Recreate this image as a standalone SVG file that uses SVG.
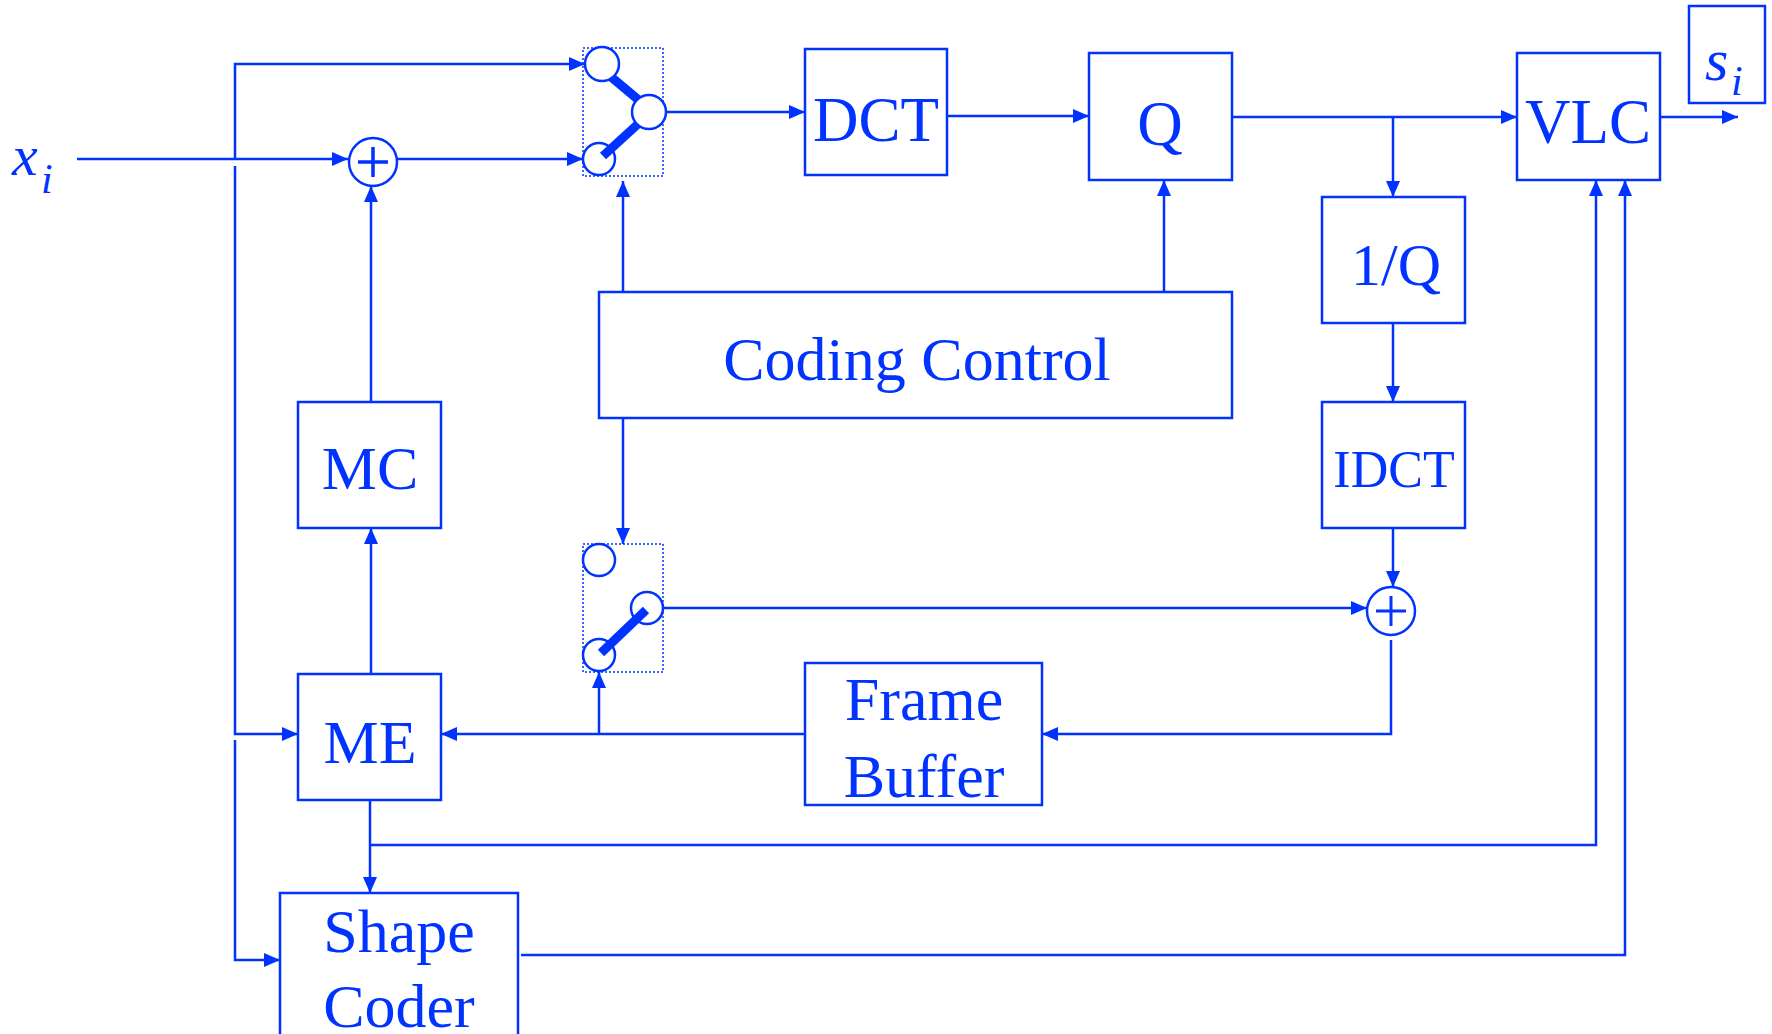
<svg xmlns="http://www.w3.org/2000/svg" width="1772" height="1034" viewBox="0 0 1772 1034">
<defs>
<marker id="ah" markerUnits="userSpaceOnUse" markerWidth="16" markerHeight="14" refX="16" refY="7" orient="auto">
<path d="M0,0 L16,7 L0,14 z" fill="#0033ff"/>
</marker>
<style>
.box{fill:#fff;stroke:#0033ff;stroke-width:2.5}
.ln{fill:none;stroke:#0033ff;stroke-width:2.5}
.ar{fill:none;stroke:#0033ff;stroke-width:2.5;marker-end:url(#ah)}
.dot{fill:none;stroke:#0033ff;stroke-width:1.5;stroke-dasharray:2,2}
.sw{fill:#fff;stroke:#0033ff;stroke-width:2.5}
.bar{stroke:#0033ff;stroke-width:9}
.t{font-family:"Liberation Serif","Times New Roman",serif;fill:#0033ff;text-anchor:middle}
.it{font-family:"Liberation Serif","Times New Roman",serif;fill:#0033ff;font-style:italic}
</style>
</defs>
<rect width="1772" height="1034" fill="#fff"/>
<g id="connectors">
<path class="ar" d="M77,159 H348"/>
<path class="ar" d="M397,159 H583"/>
<path class="ar" d="M235,159 V64 H585"/>
<path class="ar" d="M666,112 H805"/>
<path class="ar" d="M947,116 H1089"/>
<path class="ar" d="M1232,117 H1517"/>
<path class="ar" d="M1393,117 V197"/>
<path class="ar" d="M1393,323 V402"/>
<path class="ar" d="M1393,528 V587"/>
<path class="ar" d="M1391,640 V734 H1042"/>
<path class="ar" d="M805,734 H441"/>
<path class="ar" d="M599,734 V672"/>
<path class="ar" d="M663,608 H1367"/>
<path class="ar" d="M623,292 V181"/>
<path class="ar" d="M1164,292 V180"/>
<path class="ar" d="M623,418 V544"/>
<path class="ar" d="M371,402 V186"/>
<path class="ar" d="M371,674 V528"/>
<path class="ar" d="M235,166 V734 H298"/>
<path class="ar" d="M235,740 V960 H280"/>
<path class="ar" d="M370,800 V893"/>
<path class="ar" d="M370,845 H1596 V180"/>
<path class="ar" d="M521,955 H1625 V180"/>
<path class="ar" d="M1660,117 H1738"/>
</g>
<g id="adder1">
<circle class="sw" cx="373" cy="162" r="24"/>
<path class="ln" d="M358,162 H388 M373,147 V177" style="stroke-width:3.5"/>
</g>
<g id="adder2">
<circle class="sw" cx="1391" cy="611" r="24"/>
<path class="ln" d="M1376,611 H1406 M1391,596 V626" style="stroke-width:3"/>
</g>
<g id="switch1">
<rect class="dot" x="583" y="48" width="80" height="128"/>
<line class="bar" x1="610" y1="76" x2="641" y2="102"/>
<line class="bar" x1="603" y1="156" x2="638" y2="124"/>
<circle class="sw" cx="602" cy="64" r="17"/>
<circle class="sw" cx="649" cy="112" r="17"/>
<circle cx="599" cy="159" r="16" fill="none" stroke="#0033ff" stroke-width="2.5"/>
</g>
<g id="switch2">
<rect class="dot" x="583" y="544" width="80" height="128"/>
<circle class="sw" cx="599" cy="560" r="16"/>
<circle cx="647" cy="608" r="16" fill="none" stroke="#0033ff" stroke-width="2.5"/>
<circle cx="599" cy="655" r="16" fill="none" stroke="#0033ff" stroke-width="2.5"/>
<line class="bar" x1="601" y1="653" x2="646" y2="610"/>
</g>
<g id="dct"><rect class="box" x="805" y="49" width="142" height="126"/><text class="t" x="876" y="141" font-size="63">DCT</text></g>
<g id="q"><rect class="box" x="1089" y="53" width="143" height="127"/><text class="t" x="1160" y="145" font-size="63">Q</text></g>
<g id="vlc"><rect class="box" x="1517" y="53" width="143" height="127"/><text class="t" x="1588" y="143" font-size="63">VLC</text></g>
<g id="si"><rect class="box" x="1689" y="6" width="76" height="97"/><text class="it" x="1705" y="80" font-size="60">s</text><text class="it" x="1731" y="95" font-size="42">i</text></g>
<g id="xi"><text class="it" x="12" y="175" font-size="58">x</text><text class="it" x="41" y="193" font-size="42">i</text></g>
<g id="invq"><rect class="box" x="1322" y="197" width="143" height="126"/><text class="t" x="1396" y="285" font-size="60">1/Q</text></g>
<g id="idct"><rect class="box" x="1322" y="402" width="143" height="126"/><text class="t" x="1394" y="487" font-size="52">IDCT</text></g>
<g id="coding-control"><rect class="box" x="599" y="292" width="633" height="126"/><text class="t" x="917" y="380" font-size="62">Coding Control</text></g>
<g id="mc"><rect class="box" x="298" y="402" width="143" height="126"/><text class="t" x="370" y="489" font-size="62">MC</text></g>
<g id="me"><rect class="box" x="298" y="674" width="143" height="126"/><text class="t" x="370" y="763" font-size="62">ME</text></g>
<g id="frame-buffer"><rect class="box" x="805" y="663" width="237" height="142"/><text class="t" x="924" y="720" font-size="62">Frame</text><text class="t" x="924" y="797" font-size="62">Buffer</text></g>
<g id="shape-coder"><rect class="box" x="280" y="893" width="238" height="200"/><text class="t" x="399" y="952" font-size="62">Shape</text><text class="t" x="399" y="1027" font-size="62">Coder</text></g>
</svg>
